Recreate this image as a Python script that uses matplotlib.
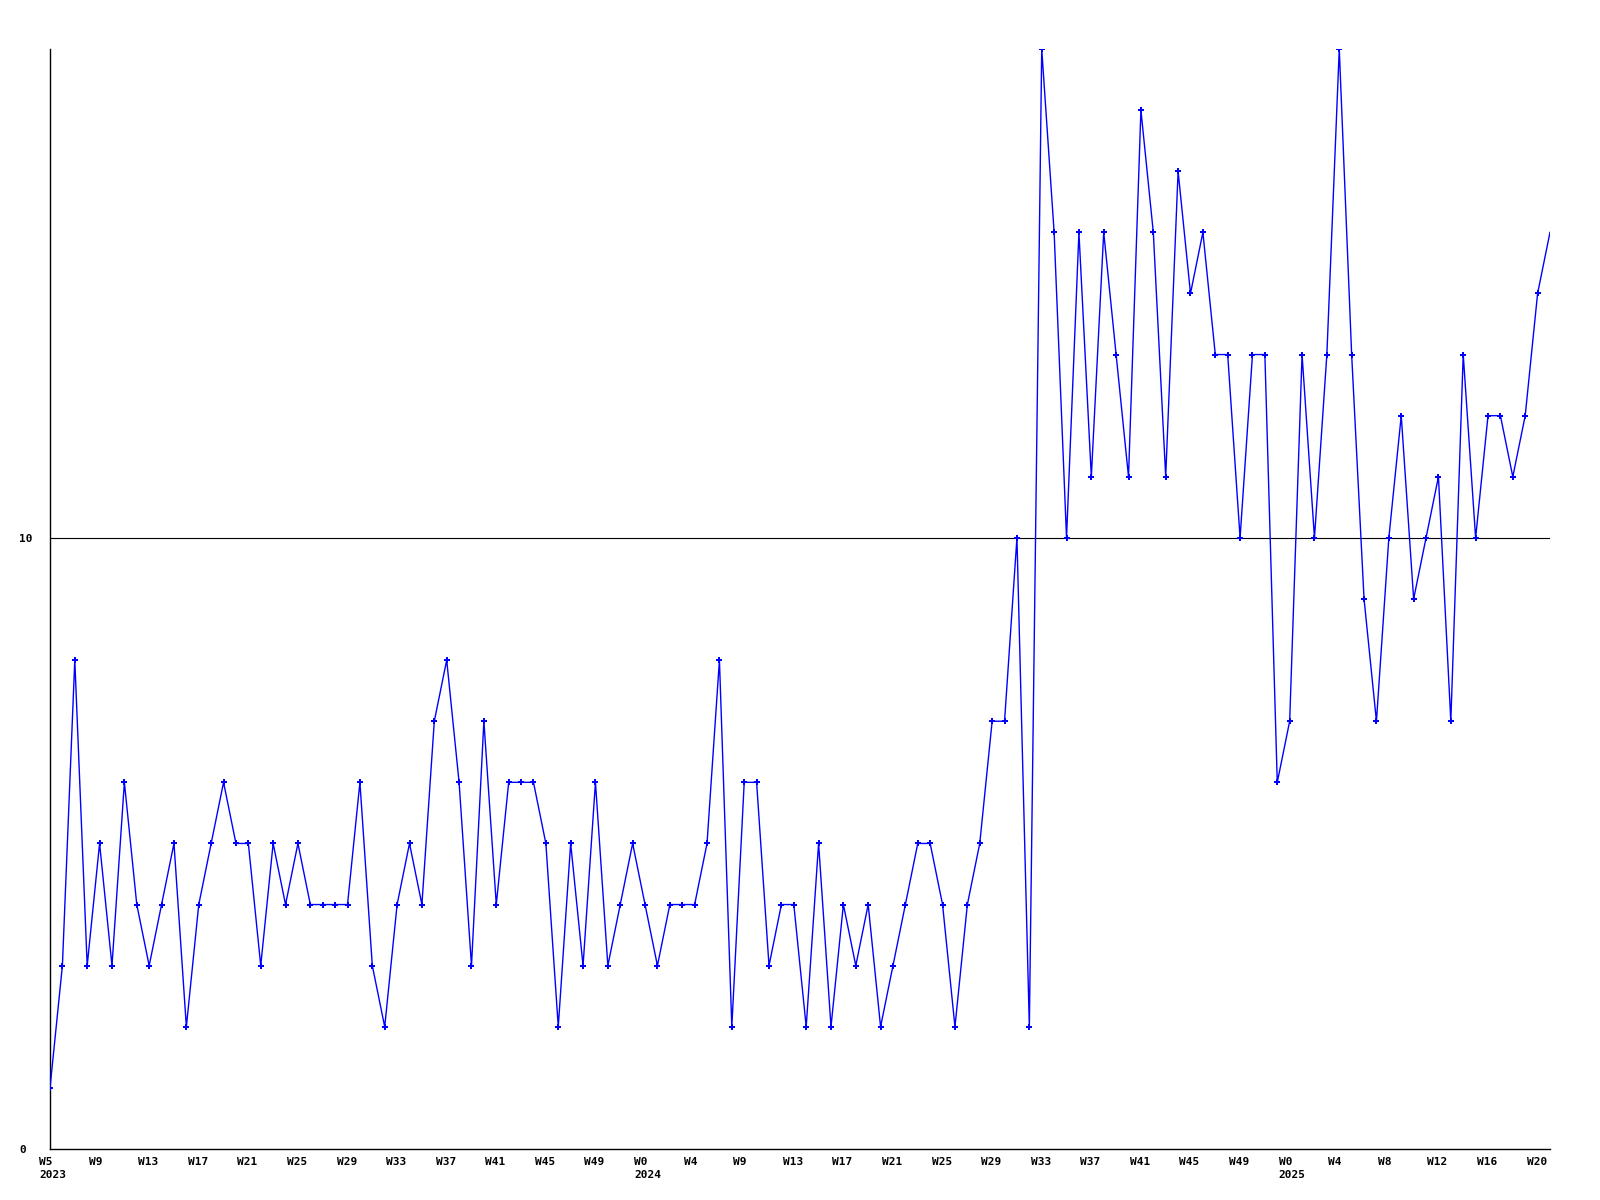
import matplotlib
matplotlib.use("Agg")
import matplotlib.pyplot as plt
import matplotlib.transforms as mtransforms

# weekly counts, W5 2023 .. W21 2025
counts = [1, 3, 8, 3, 5, 3, 6, 4, 3, 4, 5, 2, 4, 5, 6, 5, 5, 3, 5, 4, 5, 4, 4, 4, 4, 6, 3, 2, 4,
          5, 4, 7, 8, 6, 3, 7, 4, 6, 6, 6, 5, 2, 5, 3, 6, 3, 4, 5, 4, 3, 4, 4, 4, 5, 8, 2, 6, 6, 3,
          4, 4, 2, 5, 2, 4, 3, 4, 2, 3, 4, 5, 5, 4, 2, 4, 5, 7, 7, 10, 2,
          18, 15, 10, 15, 11, 15, 13, 11, 17, 15, 11, 16, 14, 15, 13, 13, 10, 13, 13,
          6, 7, 13, 10, 13, 18, 13, 9, 7, 10, 12, 9, 10, 11, 7, 13, 10, 12, 12, 11, 12, 14, 15]

week_labels = ["W5\n2023", "W9", "W13", "W17", "W21", "W25", "W29", "W33", "W37", "W41", "W45", "W49",
               "W0\n2024", "W4", "W9", "W13", "W17", "W21", "W25", "W29", "W33", "W37", "W41", "W45", "W49",
               "W0\n2025", "W4", "W8", "W12", "W16", "W20"]

y_ticks = [0, 10]

x = list(range(len(counts)))
blue = "#0000ff"
font = dict(family="DejaVu Sans Mono", size=8, weight="bold")

fig = plt.figure(figsize=(16, 12), dpi=100)
ax = fig.add_axes([50 / 1600, 51 / 1200, 1500 / 1600, 1100 / 1200])

ax.axhline(10, color="black", lw=0.8, zorder=1)
# last point sits on the right edge, no marker shown there
ax.plot(x, counts, color=blue, lw=1.0, marker="P", ms=4.5, mew=0,
        markevery=x[:-1], zorder=3)

ax.set_xlim(0, len(counts) - 1)
ax.set_ylim(0, 18)

for s in ["top", "right"]:
    ax.spines[s].set_visible(False)
for s in ["left", "bottom"]:
    ax.spines[s].set_color("black")
    ax.spines[s].set_linewidth(1.0)

ax.set_xticks(x[::4])
ax.set_xticklabels(week_labels, ha="left", va="top", multialignment="left",
                   linespacing=1.3, **font)
ax.tick_params(axis="x", length=0, pad=6)
shift = mtransforms.ScaledTranslation(-11 / 100, 0, fig.dpi_scale_trans)
for lab in ax.get_xticklabels():
    lab.set_transform(lab.get_transform() + shift)

ax.set_yticks(y_ticks)
ax.set_yticklabels([str(v) for v in y_ticks], ha="left", **font)
ax.tick_params(axis="y", length=0, pad=22)

fig.savefig("out.png", dpi=100)
